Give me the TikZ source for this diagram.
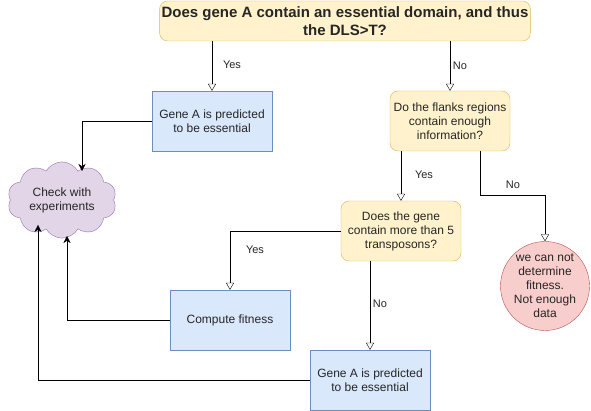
\documentclass[tikz,border=0pt]{standalone}
\usepackage{fontspec}
\setmainfont{Liberation Sans}
\usetikzlibrary{arrows.meta,shapes.symbols,shapes.geometric}
\definecolor{yfill}{HTML}{FFF2CC}
\definecolor{ydraw}{HTML}{D6B656}
\definecolor{bfill}{HTML}{DAE8FC}
\definecolor{bdraw}{HTML}{6C8EBF}
\definecolor{rfill}{HTML}{F8CECC}
\definecolor{rdraw}{HTML}{B85450}
\definecolor{pfill}{HTML}{E1D5E7}
\definecolor{pdraw}{HTML}{9673A6}
\begin{document}
\begin{tikzpicture}[x=1pt,y=-1pt,
  txt/.style={font=\fontsize{12}{14}\selectfont, align=center, text=black!85},
  question/.style={txt, draw=ydraw, fill=yfill, rounded corners=8pt, minimum width=120pt, minimum height=60pt, inner sep=2pt},
  result/.style={txt, draw=bdraw, fill=bfill, minimum width=120pt, minimum height=60pt, inner sep=2pt},
  yesno/.style={draw=black, -{Triangle[open,length=7pt,width=8pt]}},
  toexp/.style={draw=black, -{Stealth[length=7pt,width=7pt]}},
  lbl/.style={font=\fontsize{11}{13}\selectfont, text=black!85, inner sep=1pt}
]
\useasboundingbox (0,0) rectangle (591,411);

\node[question, minimum width=370pt, minimum height=40pt, font=\bfseries\fontsize{15}{18}\selectfont] (top) at (345,21)
  {Does gene A contain an essential domain, and thus\\the DLS>T?};
\node[result] (ga1) at (212,121) {Gene A is predicted\\to be essential};
\node[question] (flanks) at (450,121) {Do the flanks regions\\contain enough\\information?};
\node[question] (trans) at (401,231) {Does the gene\\contain more than 5\\transposons?};
\node[txt, circle, draw=rdraw, fill=rfill, minimum size=89pt, inner sep=0pt] (nodata) at (545,286)
  {we can not\\determine\\fitness.\\Not enough\\data};
\node[result] (comp) at (230,320) {Compute fitness};
\node[result] (ga2) at (370,380) {Gene A is predicted\\to be essential};
\node[txt, cloud, cloud puffs=10, cloud puff arc=120, draw=pdraw, fill=pfill, minimum width=109pt, minimum height=74pt, inner sep=0pt, aspect=1.47] (cloudn) at (62,200)
  {Check with\\experiments};

\coordinate (c1) at (82,171);
\coordinate (c2) at (67,236);
\coordinate (c3) at (38,225);
\coordinate (bend) at (545,195);

\draw[yesno] (top.south -| ga1) -- (ga1.north);
\node[lbl] (l1) at (232,65) {Yes};
\draw[yesno] (top.south -| flanks) -- (flanks.north);
\node[lbl] (l2) at (460,66) {No};
\draw[yesno] (flanks.south -| trans.north) -- (trans.north);
\node[lbl] (l3) at (424,175) {Yes};
\draw[yesno] ([xshift=30pt]flanks.south) |- (bend) -- (nodata.north);
\node[lbl] (l4) at (513,185) {No};
\draw[yesno] (trans.west) -| (comp.north);
\node[lbl] (l5) at (255,250) {Yes};
\draw[yesno] (trans.south -| ga2.north) -- (ga2.north);
\node[lbl] (l6) at (380,304) {No};

\draw[toexp] (ga1.west) -| (c1);
\draw[toexp] (comp.west) -| (c2);
\draw[toexp] (ga2.west) -| (c3);
\end{tikzpicture}
\end{document}
